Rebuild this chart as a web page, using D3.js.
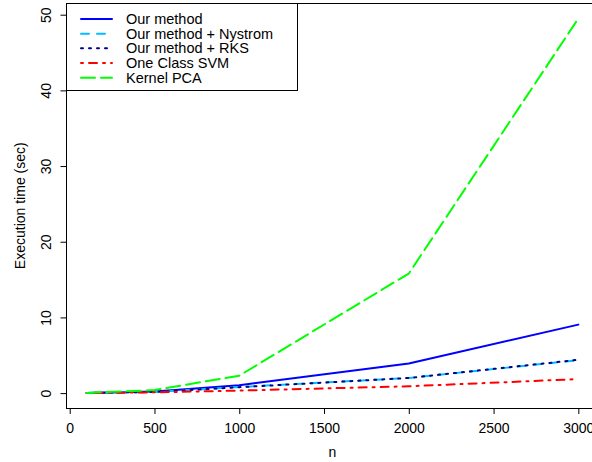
<!DOCTYPE html>
<html>
<head>
<meta charset="utf-8">
<script src="https://cdn.jsdelivr.net/npm/d3@7/dist/d3.min.js"></script>
<style>
  html, body { margin: 0; padding: 0; background: #fff; }
  svg { display: block; font-family: "Liberation Sans", Arial, Helvetica, sans-serif; }
</style>
</head>
<body>
<svg id="chart" width="592" height="462"></svg>
<script>
// Sample sizes and execution times (seconds) per method
const nValues = [100, 500, 1000, 2000, 3000];
const ourMethod = [0.02, 0.22, 1.05, 3.9, 9.05];
const ourNystrom = [0.02, 0.15, 0.8, 2.0, 4.35];
const ourRKS = [0.02, 0.15, 0.78, 2.0, 4.4];
const oneClassSVM = [0.01, 0.1, 0.33, 0.9, 1.85];
const kernelPCA = [0.02, 0.4, 2.3, 15.8, 49.5];

const xTicks = [0, 500, 1000, 1500, 2000, 2500, 3000];
const yTicks = [0, 10, 20, 30, 40, 50];

const seriesNames = ["Our method", "Our method + Nystrom", "Our method + RKS", "One Class SVM", "Kernel PCA"];
const seriesValues = [ourMethod, ourNystrom, ourRKS, oneClassSVM, kernelPCA];
const seriesColors = ["#0000ff", "#00bfff", "#00008b", "#ff0000", "#00ff00"];
const seriesDash = [null, "8,8", "2,6", "2,6,8,6", "14,6"];

const svg = d3.select("#chart");

// plot region (right edge runs past the window)
const plotLeft = 67, plotRight = 598, plotTop = 3.5, plotBottom = 408;

// axis ranges padded by 4% as in the usual statistical plot defaults
const xr = d3.extent(nValues);
const xPad = (xr[1] - xr[0]) * 0.04;
const x = d3.scaleLinear().domain([xr[0] - xPad, xr[1] + xPad]).range([plotLeft, plotRight]);

const allY = seriesValues.flat();
const yr = d3.extent(allY);
const yPad = (yr[1] - yr[0]) * 0.04;
const y = d3.scaleLinear().domain([yr[0] - yPad, yr[1] + yPad]).range([plotBottom, plotTop]);

svg.append("clipPath").attr("id", "plotClip")
  .append("rect").attr("x", plotLeft).attr("y", plotTop)
  .attr("width", plotRight - plotLeft).attr("height", plotBottom - plotTop);

// data lines
const line = d3.line().x((d, i) => x(nValues[i])).y(d => y(d));
const plot = svg.append("g").attr("clip-path", "url(#plotClip)");
seriesValues.forEach((vals, k) => {
  plot.append("path")
    .datum(vals)
    .attr("d", line)
    .attr("fill", "none")
    .attr("stroke", seriesColors[k])
    .attr("stroke-width", 2)
    .attr("stroke-linecap", "round")
    .attr("stroke-linejoin", "round")
    .attr("stroke-dasharray", seriesDash[k]);
});

// x axis
const xAxis = d3.axisBottom(x).tickValues(xTicks).tickSize(6).tickPadding(9).tickFormat(d3.format("d"));
const gx = svg.append("g").attr("transform", `translate(0,${plotBottom})`).call(xAxis);
gx.select(".domain").attr("d", `M${x(xTicks[0])},0.5H${x(xTicks[xTicks.length - 1])}`).attr("stroke", "#000");
gx.selectAll(".tick line").attr("stroke", "#000");
gx.selectAll(".tick text").attr("font-size", 14).attr("fill", "#000")
  .attr("dy", null).attr("y", 25);

// y axis with vertical labels
const yAxis = d3.axisLeft(y).tickValues(yTicks).tickSize(6).tickFormat(d3.format("d"));
const gy = svg.append("g").attr("transform", `translate(${plotLeft - 0.5},0)`).call(yAxis);
gy.select(".domain").attr("d", `M0,${y(yTicks[0])}V${y(yTicks[yTicks.length - 1])}`).attr("stroke", "#000");
gy.selectAll(".tick line").attr("stroke", "#000");
gy.selectAll(".tick text")
  .attr("font-size", 14).attr("fill", "#000")
  .attr("x", null).attr("dy", null)
  .attr("text-anchor", "middle")
  .attr("transform", "translate(-16,0) rotate(-90)");

// plot frame
svg.append("rect")
  .attr("x", plotLeft - 0.5).attr("y", plotTop)
  .attr("width", plotRight - plotLeft).attr("height", plotBottom - plotTop + 0.5)
  .attr("fill", "none").attr("stroke", "#000").attr("stroke-width", 1);

// axis titles
svg.append("text")
  .attr("x", (plotLeft + plotRight) / 2).attr("y", 457)
  .attr("text-anchor", "middle").attr("font-size", 14).attr("fill", "#000")
  .text("n");
svg.append("text")
  .attr("transform", `translate(25,${(plotTop + plotBottom) / 2}) rotate(-90)`)
  .attr("text-anchor", "middle").attr("font-size", 14).attr("fill", "#000")
  .text("Execution time (sec)");

// legend
const legend = svg.append("g");
legend.append("rect")
  .attr("x", plotLeft - 0.5).attr("y", plotTop).attr("width", 231).attr("height", 87)
  .attr("fill", "#fff").attr("stroke", "#000").attr("stroke-width", 1);
const rowY = d3.scalePoint().domain(seriesNames).range([19, 77.7]);
seriesNames.forEach((name, k) => {
  const ly = rowY(name);
  legend.append("line")
    .attr("x1", 81).attr("x2", 112).attr("y1", ly).attr("y2", ly)
    .attr("stroke", seriesColors[k]).attr("stroke-width", 2)
    .attr("stroke-linecap", "round")
    .attr("stroke-dasharray", seriesDash[k]);
  legend.append("text")
    .attr("x", 126).attr("y", ly + 5)
    .attr("font-size", 14.5).attr("fill", "#000")
    .text(name);
});
</script>
</body>
</html>
